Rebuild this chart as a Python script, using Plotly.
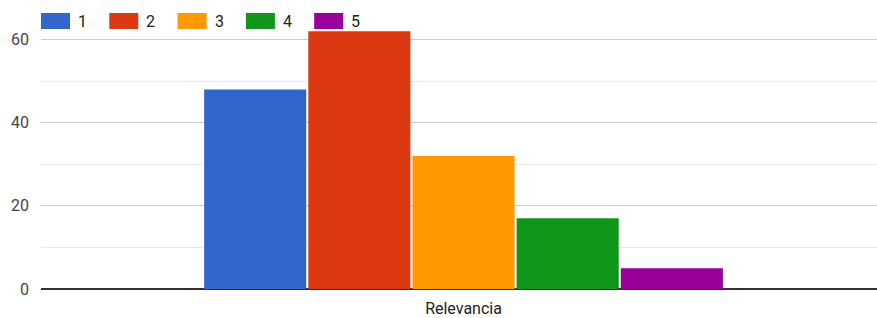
import plotly.graph_objects as go

categories = ["Relevancia"]
series_names = ["1", "2", "3", "4", "5"]
series_values = [[48], [62], [32], [17], [5]]
colors = ["#3366cc", "#dc3912", "#ff9900", "#109618", "#990099"]
y_ticks = [0, 20, 40, 60]

W, H = 877, 318
ML, MR, MT, MB = 41, 0, 27, 29
PW, PH = W - ML - MR, H - MT - MB

def px_x(p):
    return (p - ML) / PW

def px_y(p):
    return (H - MB - p) / PH

fig = go.Figure()
for name, vals, col in zip(series_names, series_values, colors):
    fig.add_trace(go.Bar(
        x=categories, y=vals, name=name,
        marker=dict(color=col, line=dict(width=0)),
        showlegend=False,
    ))

# custom legend (large swatches like the original)
shapes, annotations = [], []
for i, (name, col) in enumerate(zip(series_names, colors)):
    left = 41 + i * 68.3
    shapes.append(dict(type="rect", xref="paper", yref="paper",
                       x0=px_x(left), x1=px_x(left + 29),
                       y0=px_y(29), y1=px_y(13),
                       fillcolor=col, line=dict(width=0), layer="above"))
    annotations.append(dict(text=name, xref="paper", yref="paper",
                            x=px_x(left + 35), y=px_y(21),
                            xanchor="left", yanchor="middle", showarrow=False,
                            font=dict(size=16, color="#222")))

fig.update_layout(
    width=W, height=H,
    margin=dict(l=ML, r=MR, t=MT, b=MB),
    paper_bgcolor="white", plot_bgcolor="white",
    barmode="group", bargap=0.377, bargroupgap=0.02,
    font=dict(family="Roboto, Arial, sans-serif", size=16, color="#222"),
    showlegend=False,
    shapes=shapes, annotations=annotations,
    xaxis=dict(range=[-0.5054, 0.4946], showgrid=False, showline=False,
               zeroline=False, ticks="", automargin=False, ticklabelstandoff=8,
               tickfont=dict(size=16, color="#222")),
    yaxis=dict(range=[0, 63], tickvals=y_ticks, ticktext=[str(v) for v in y_ticks],
               showgrid=True, gridcolor="#cccccc", gridwidth=1,
               minor=dict(dtick=10, showgrid=True, gridcolor="#ebebeb", gridwidth=1),
               zeroline=True, zerolinecolor="#333333", zerolinewidth=2,
               ticks="", ticklabelstandoff=11, automargin=False,
               tickfont=dict(size=16, color="#444")),
)

fig.write_html("out.html", config={"displayModeBar": False},
               post_script="document.body.style.margin='0';")
